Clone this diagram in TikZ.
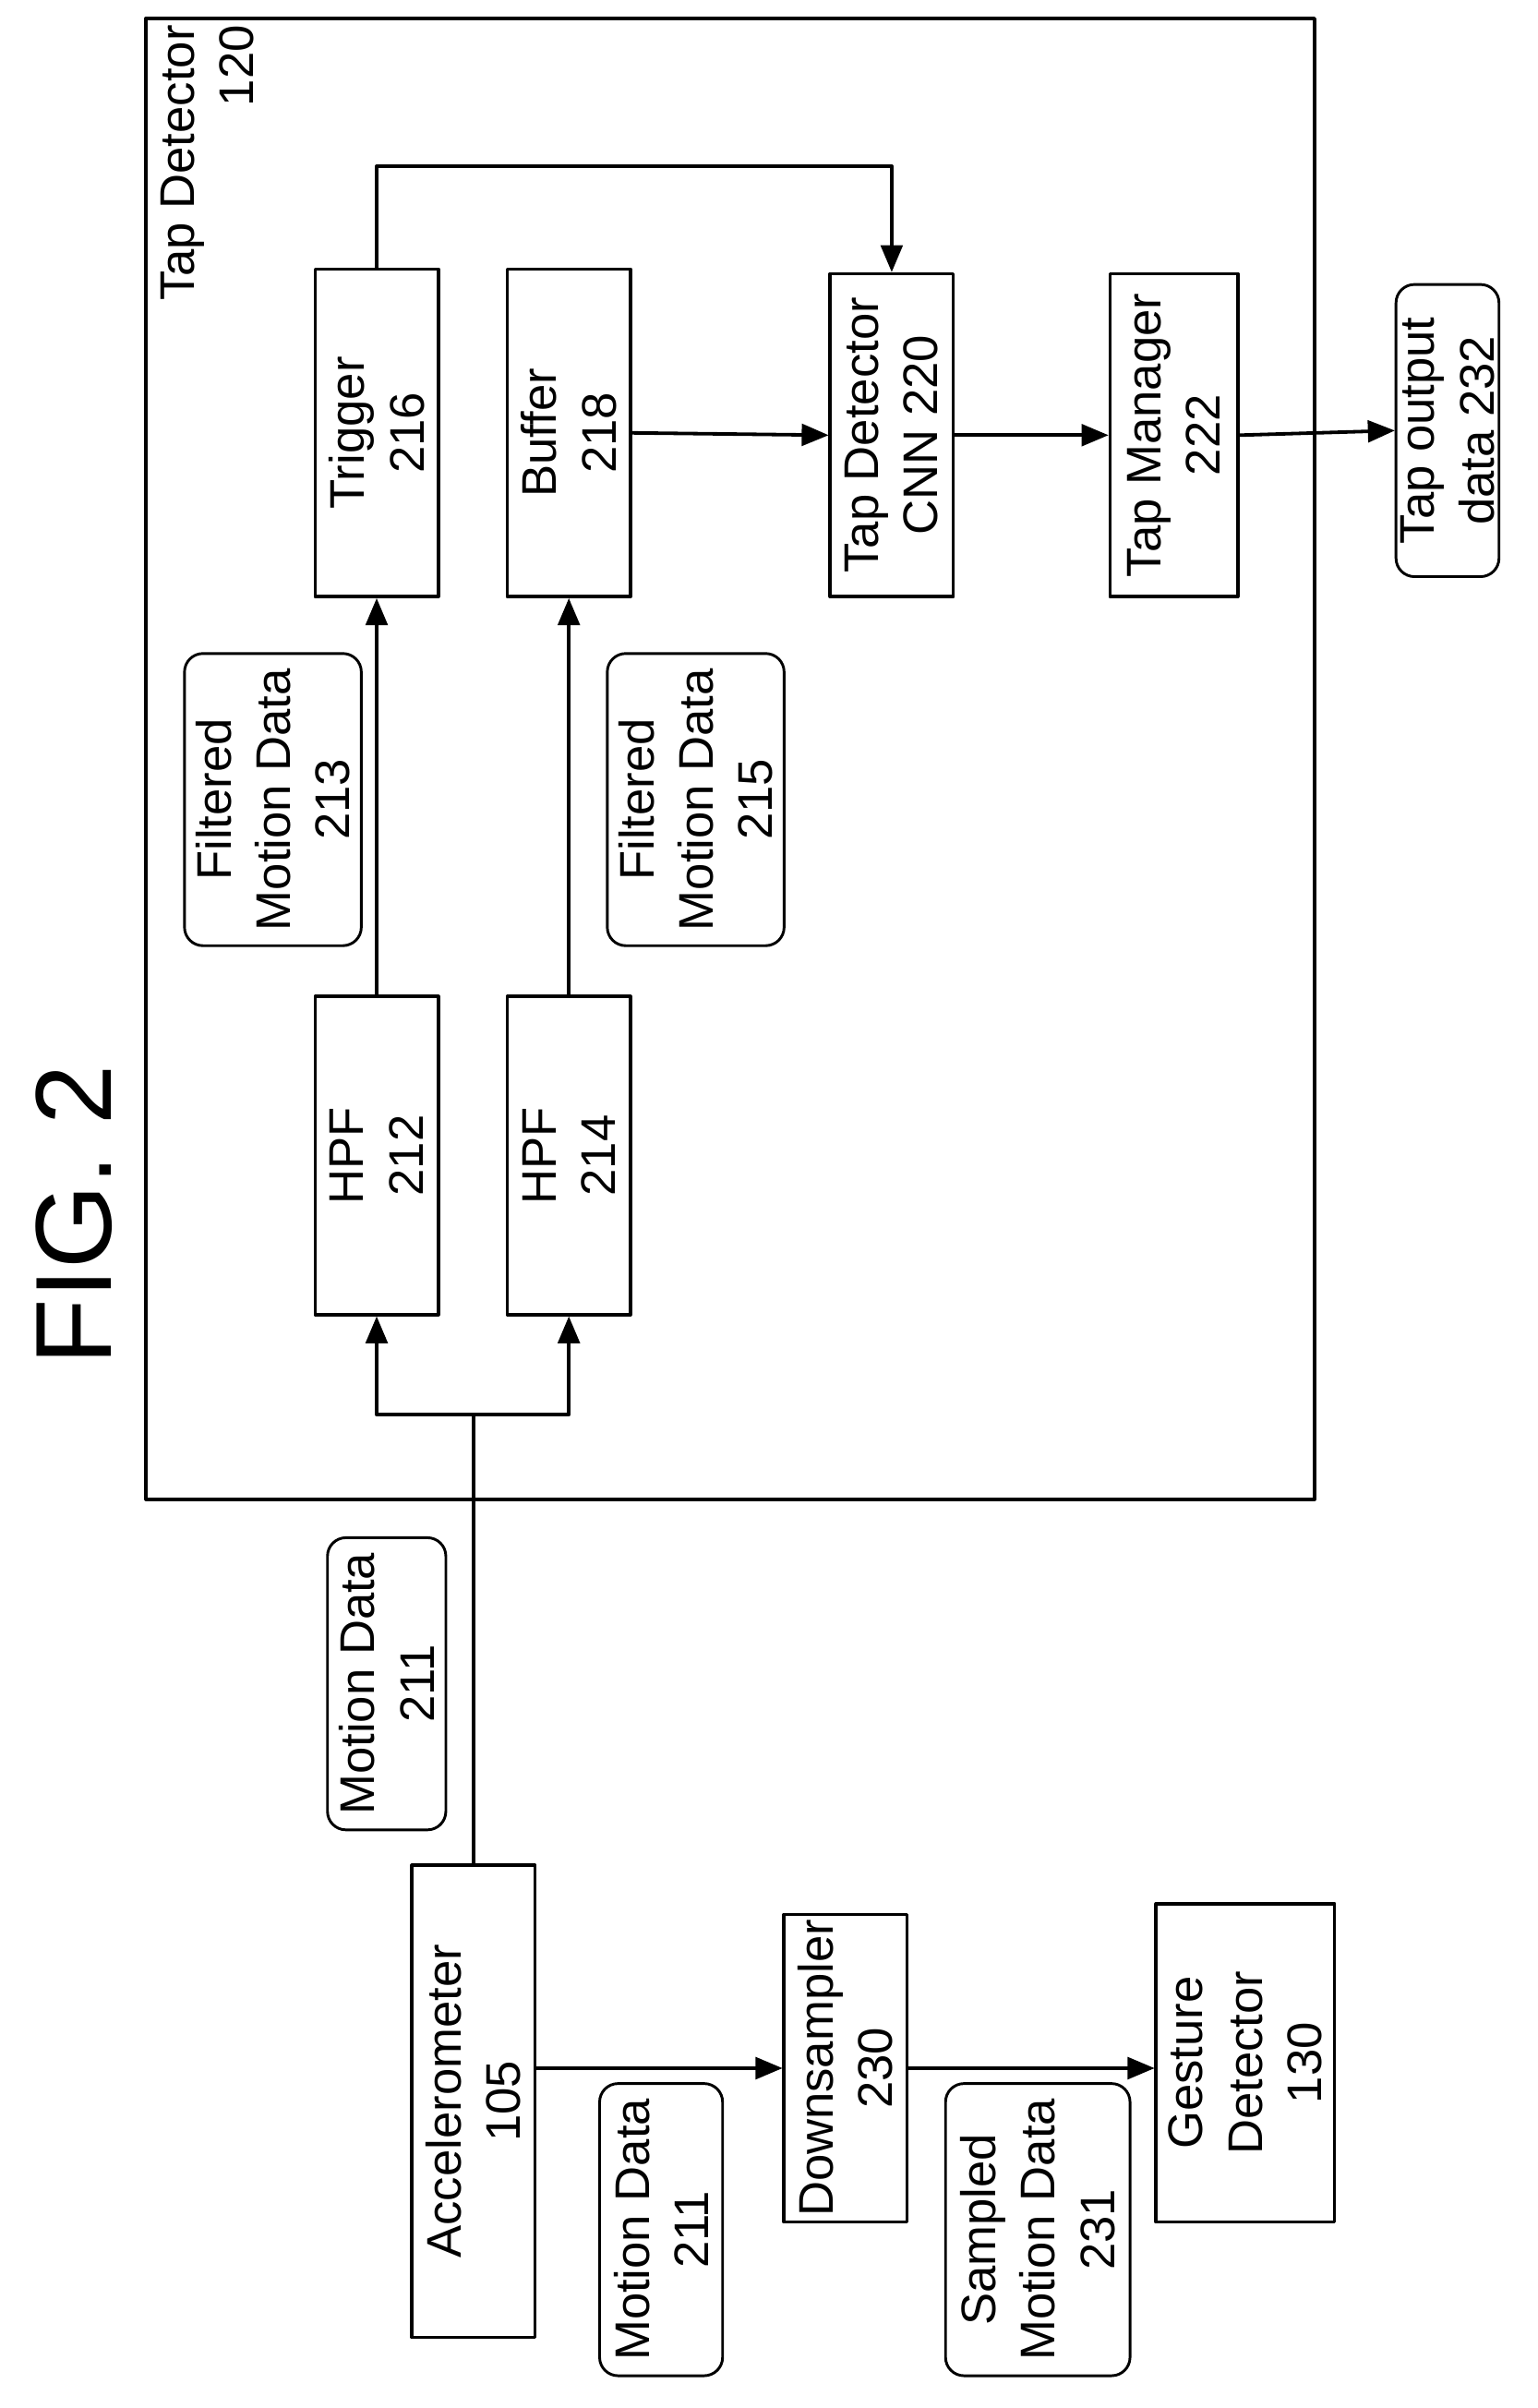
\documentclass[tikz,border=0pt]{standalone}
\usepackage{fontspec}
\setmainfont{Liberation Sans}
\usetikzlibrary{arrows}

\begin{document}
\begin{tikzpicture}[line cap=round,line join=round,>=triangle 45,x=0.02cm,y=-0.02cm,
  box/.style={draw,line width=1.3pt,rotate=90,align=center,inner sep=0pt,font=\fontsize{18}{22}\selectfont},
  data/.style={draw,line width=1pt,rounded corners=0.24cm,rotate=90,align=center,inner sep=0pt,font=\fontsize{18}{22}\selectfont},
  link/.style={line width=1.3pt}]
\useasboundingbox (0,0) rectangle (1000,1566);
% outer block
\draw [line width=1.3pt] (95,12) rectangle (855,975);
\node [rotate=90,anchor=north east,align=right,inner sep=0pt,font=\fontsize{18}{22}\selectfont] (tdlabel) at (104,16) {Tap Detector\\120};
\node [rotate=90,font=\fontsize{40}{44}\selectfont] (fig) at (48,790) {FIG. 2};
% blocks
\node [box,minimum width=213*0.02cm,minimum height=80*0.02cm] (trig) at (245,281.5) {Trigger\\216};
\node [box,minimum width=213*0.02cm,minimum height=80*0.02cm] (buf) at (370,281.5) {Buffer\\218};
\node [box,minimum width=210*0.02cm,minimum height=80*0.02cm] (cnn) at (580,283) {Tap Detector\\CNN 220};
\node [box,minimum width=210*0.02cm,minimum height=83*0.02cm] (mgr) at (763.5,283) {Tap Manager\\222};
\node [data,minimum width=190*0.02cm,minimum height=67*0.02cm] (tout) at (941.5,280) {Tap output\\data 232};
\node [data,minimum width=190*0.02cm,minimum height=115*0.02cm] (fmd1) at (177.5,520) {Filtered\\Motion Data\\213};
\node [data,minimum width=190*0.02cm,minimum height=115*0.02cm] (fmd2) at (452.5,520) {Filtered\\Motion Data\\215};
\node [box,minimum width=207*0.02cm,minimum height=80*0.02cm] (hpfa) at (245,751.5) {HPF\\212};
\node [box,minimum width=207*0.02cm,minimum height=80*0.02cm] (hpfb) at (370,751.5) {HPF\\214};
\node [data,minimum width=190*0.02cm,minimum height=77*0.02cm] (mda) at (251.5,1095) {Motion Data\\211};
\node [box,minimum width=307*0.02cm,minimum height=80*0.02cm] (acc) at (308,1366.5) {Accelerometer\\105};
\node [data,minimum width=190*0.02cm,minimum height=80*0.02cm] (mdb) at (430,1450) {Motion Data\\211};
\node [box,minimum width=200*0.02cm,minimum height=80*0.02cm] (down) at (550,1345) {Downsampler\\230};
\node [data,minimum width=190*0.02cm,minimum height=120*0.02cm] (smd) at (675,1450) {Sampled\\Motion Data\\231};
\node [box,minimum width=207*0.02cm,minimum height=116*0.02cm] (gest) at (810,1341.5) {Gesture\\Detector\\130};
\coordinate (split) at (308,920);
\coordinate (trigtop) at (245,108);
% connectors
\draw [link] (acc.east) -- (split);
\draw [link,->] (split) -| (hpfa.west);
\draw [link,->] (split) -| (hpfb.west);
\draw [link,->] (hpfa.east) -- (trig.west);
\draw [link,->] (hpfb.east) -- (buf.west);
\draw [link,->] (trig.east) -- (trigtop) -| (cnn.east);
\draw [link,->] (buf.south) -- (cnn.north);
\draw [link,->] (cnn.south) -- (mgr.north);
\draw [link,->] (mgr.south) -- (tout.north);
\draw [link,->] (acc.south |- down.center) -- (down.north);
\draw [link,->] (down.south) -- (down.south -| gest.north);
\end{tikzpicture}
\end{document}
